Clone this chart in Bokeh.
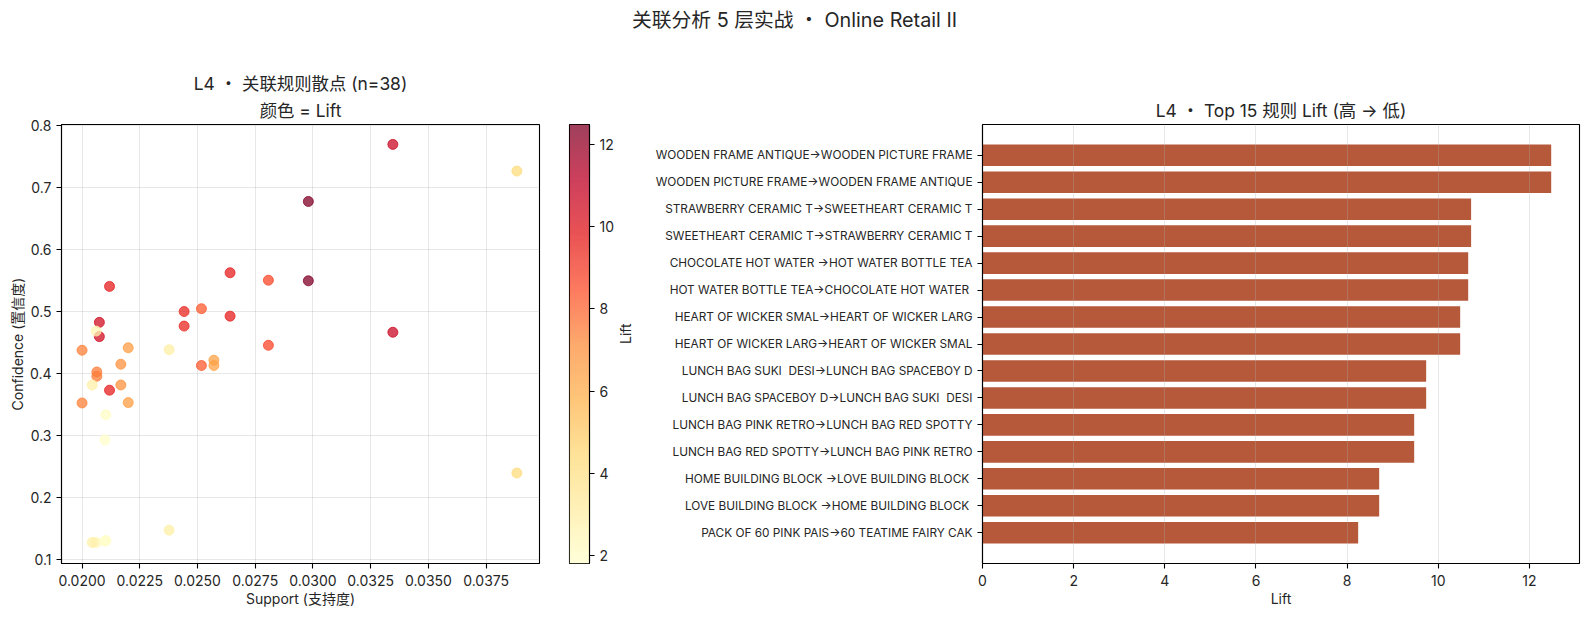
import math
import numpy as np
from bokeh.embed import file_html
from bokeh.resources import INLINE
from bokeh.layouts import column, row
from bokeh.models import (ColumnDataSource, FactorRange, FixedTicker, LinearColorMapper,
                          NumeralTickFormatter, Range1d, Title)
from bokeh.palettes import YlOrRd9
from bokeh.plotting import figure

support = [0.0298, 0.0298, 0.03346, 0.03346, 0.03883, 0.03883, 0.02119, 0.02119, 0.02075, 0.02075,
           0.02061, 0.02061, 0.02442, 0.02442, 0.02517, 0.02517, 0.02641, 0.02641, 0.02807, 0.02807,
           0.0200, 0.0200, 0.0220, 0.0220, 0.02377, 0.02377, 0.02571, 0.02571, 0.02168, 0.02168,
           0.02064, 0.02064, 0.02044, 0.02044, 0.02103, 0.02103, 0.02099, 0.02099]
confidence = [0.677, 0.549, 0.769, 0.466, 0.726, 0.239, 0.540, 0.3726, 0.482, 0.459,
              0.468, 0.127, 0.4995, 0.476, 0.504, 0.4124, 0.562, 0.492, 0.550, 0.445,
              0.437, 0.352, 0.441, 0.3526, 0.438, 0.1468, 0.421, 0.4124, 0.4145, 0.381,
              0.402, 0.395, 0.381, 0.127, 0.333, 0.130, 0.2925, 0.129]
lift_pts = [12.48, 12.48, 10.72, 10.72, 4.3, 4.3, 9.7, 9.7, 10.48, 10.48,
            2.6, 2.6, 9.47, 9.47, 8.24, 8.24, 9.73, 9.73, 8.7, 8.7,
            7.4, 7.4, 6.6, 6.6, 3.0, 3.0, 6.4, 6.4, 7.0, 7.0,
            7.5, 7.5, 2.9, 2.9, 2.1, 2.1, 1.9, 1.9]

rule_labels = ["WOODEN FRAME ANTIQUE→WOODEN PICTURE FRAME", "WOODEN PICTURE FRAME→WOODEN FRAME ANTIQUE",
               "STRAWBERRY CERAMIC T→SWEETHEART CERAMIC T", "SWEETHEART CERAMIC T→STRAWBERRY CERAMIC T",
               "CHOCOLATE HOT WATER →HOT WATER BOTTLE TEA", "HOT WATER BOTTLE TEA→CHOCOLATE HOT WATER\u00a0",
               "HEART OF WICKER SMAL→HEART OF WICKER LARG", "HEART OF WICKER LARG→HEART OF WICKER SMAL",
               "LUNCH BAG SUKI \u00a0DESI→LUNCH BAG SPACEBOY D", "LUNCH BAG SPACEBOY D→LUNCH BAG SUKI \u00a0DESI",
               "LUNCH BAG PINK RETRO→LUNCH BAG RED SPOTTY", "LUNCH BAG RED SPOTTY→LUNCH BAG PINK RETRO",
               "HOME BUILDING BLOCK →LOVE BUILDING BLOCK\u00a0", "LOVE BUILDING BLOCK →HOME BUILDING BLOCK\u00a0",
               "PACK OF 60 PINK PAIS→60 TEATIME FAIRY CAK"]
rule_lift = [12.477, 12.477, 10.72, 10.72, 10.656, 10.656, 10.48, 10.48,
             9.734, 9.734, 9.471, 9.471, 8.703, 8.703, 8.242]

x_ticks = [0.02, 0.0225, 0.025, 0.0275, 0.03, 0.0325, 0.035, 0.0375]
y_ticks = [0.1, 0.2, 0.3, 0.4, 0.5, 0.6, 0.7, 0.8]
cbar_ticks = [2, 4, 6, 8, 10, 12]
lift_ticks = [0, 2, 4, 6, 8, 10, 12]
LIFT_LOW, LIFT_HIGH = 1.815, 12.48

FONT = "Inter, 'Noto Sans CJK SC'"
INK = "#262626"
GRID = "#b0b0b0"
BAR = "#B5593A"

anchors = np.array([[int(c[i:i + 2], 16) for i in (1, 3, 5)] for c in YlOrRd9[::-1]], float)
pos = np.linspace(0, 1, 9)
grid_t = np.linspace(0, 1, 256)
palette = ["#%02x%02x%02x" % tuple(int(round(np.interp(t, pos, anchors[:, k]))) for k in range(3)) for t in grid_t]
mapper = LinearColorMapper(palette=palette, low=LIFT_LOW, high=LIFT_HIGH)


def style(p):
    p.outline_line_color = "black"
    p.outline_line_width = 1.1
    p.background_fill_color = "white"
    p.border_fill_color = "white"
    for ax in p.axis:
        ax.axis_line_color = "black"
        ax.axis_line_width = 1.1
        ax.major_tick_line_color = "black"
        ax.major_tick_line_width = 1.1
        ax.major_tick_in = 0
        ax.major_tick_out = 5
        ax.minor_tick_line_color = None
        ax.major_label_text_font = FONT
        ax.major_label_text_font_size = "14px"
        ax.major_label_text_color = INK
        ax.axis_label_text_font = FONT
        ax.axis_label_text_font_size = "14px"
        ax.axis_label_text_font_style = "normal"
        ax.axis_label_text_color = INK


def add_title(p, text, size="17.4px", standoff=7):
    t = Title(text=text, align="center", text_font=FONT, text_font_size=size,
              text_font_style="normal", text_color=INK, standoff=standoff)
    p.add_layout(t, "above")


header = figure(width=1581, height=48, output_backend="svg", toolbar_location=None,
                x_axis_location=None, y_axis_location=None, min_border=0, min_border_left=7,
                x_range=Range1d(0, 1), y_range=Range1d(0, 1))
header.outline_line_color = None
header.grid.visible = False
add_title(header, "关联分析 5 层实战 ・ Online Retail II", "19.8px", 0)
header.min_border_top = 31

# scatter
p1 = figure(width=555, height=561, output_backend="svg", toolbar_location=None,
            min_border_left=61, min_border_right=16, min_border_top=76, min_border_bottom=46,
            x_range=Range1d(0.01911, 0.03981), y_range=Range1d(0.0931, 0.8011))
src = ColumnDataSource(dict(s=support, c=confidence, l=lift_pts))
p1.scatter("s", "c", source=src, size=10,
           fill_color={"field": "l", "transform": mapper},
           line_color={"field": "l", "transform": mapper},
           fill_alpha=0.75, line_alpha=0.75)
p1.xaxis.ticker = FixedTicker(ticks=x_ticks)
p1.yaxis.ticker = FixedTicker(ticks=y_ticks)
p1.xaxis.formatter = NumeralTickFormatter(format="0.0000")
p1.yaxis.formatter = NumeralTickFormatter(format="0.0")
p1.xaxis.axis_label = "Support (支持度)"
p1.yaxis.axis_label = "Confidence (置信度)"
p1.grid.grid_line_color = GRID
p1.grid.grid_line_alpha = 0.3
style(p1)
p1.xaxis.major_label_standoff = 6
p1.xaxis.axis_label_standoff = 1
p1.yaxis.axis_label_standoff = 1
add_title(p1, "颜色 = Lift")
add_title(p1, "L4 ・ 关联规则散点 (n=38)", standoff=2)

# colour bar
p3 = figure(width=90, height=561, output_backend="svg", toolbar_location=None,
            min_border_left=14, min_border_right=53, min_border_top=76, min_border_bottom=46,
            x_range=Range1d(0, 1), y_range=Range1d(LIFT_LOW, LIFT_HIGH),
            x_axis_location=None, y_axis_location="right")
p3.image(image=[np.linspace(LIFT_LOW, LIFT_HIGH, 256).reshape(-1, 1)], x=0, y=LIFT_LOW, dw=1,
         dh=LIFT_HIGH - LIFT_LOW, color_mapper=mapper, global_alpha=0.75)
p3.grid.visible = False
p3.yaxis.ticker = FixedTicker(ticks=cbar_ticks)
p3.yaxis.axis_label = "Lift"
style(p3)
p3.yaxis.axis_label_orientation = math.pi / 2
p3.yaxis.axis_label_standoff = 8

# bars
p2 = figure(width=936, height=561, output_backend="svg", toolbar_location=None,
            min_border_left=337, min_border_right=2, min_border_top=76, min_border_bottom=46,
            x_range=Range1d(0, 13.098),
            y_range=FactorRange(factors=rule_labels[::-1], range_padding=0.64, range_padding_units="absolute"))
p2.hbar(y=rule_labels, right=rule_lift, left=0, height=0.8, fill_color=BAR, line_color=None)
p2.xaxis.ticker = FixedTicker(ticks=lift_ticks)
p2.xaxis.axis_label = "Lift"
p2.ygrid.visible = False
p2.xgrid.grid_line_color = GRID
p2.xgrid.grid_line_alpha = 0.3
p2.xgrid.level = "overlay"
style(p2)
p2.xaxis.major_label_standoff = 6
p2.xaxis.axis_label_standoff = 1
p2.yaxis.major_label_text_font_size = "11.8px"
add_title(p2, "L4 ・ Top 15 规则 Lift (高 → 低)", standoff=7)

page = column(header, row(p1, p3, p2, spacing=0), spacing=0)
open("out.html", "w").write(file_html(page, INLINE))
